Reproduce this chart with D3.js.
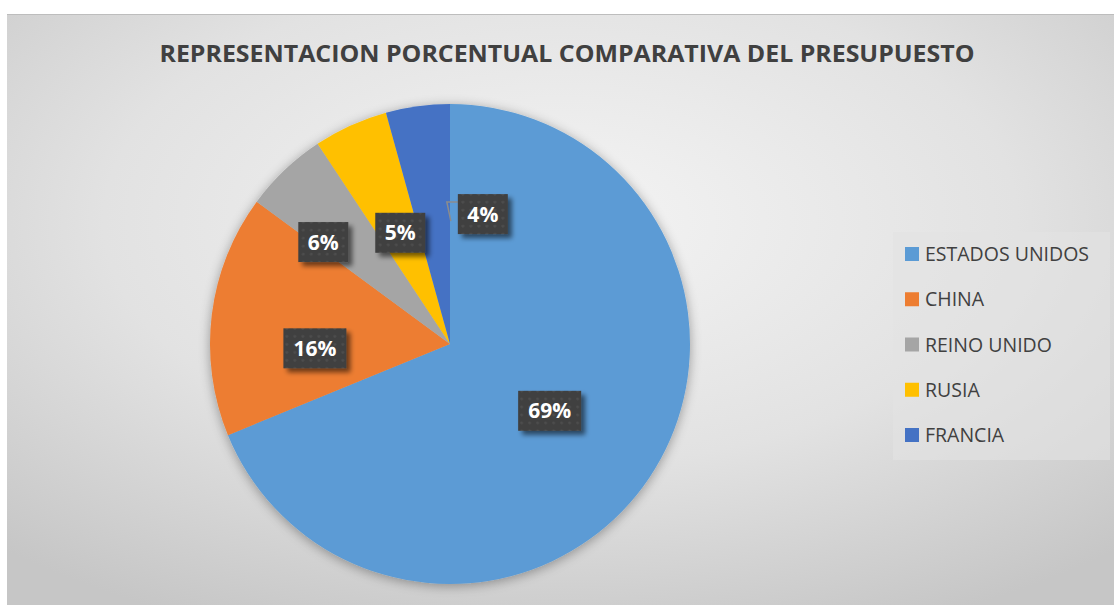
<!DOCTYPE html>
<html>
<head>
<meta charset="utf-8">
<script src="https://cdn.jsdelivr.net/npm/d3@7"></script>
<style>
  body { margin: 0; background: #fff; }
  svg { display: block; }
</style>
</head>
<body>
<svg id="chart" width="1114" height="607"></svg>
<script>
var countries = ['ESTADOS UNIDOS', 'CHINA', 'REINO UNIDO', 'RUSIA', 'FRANCIA'];
var shares = [68.8, 16.3, 5.6, 5.0, 4.3];
var colors = ['#5B9BD5', '#ED7D31', '#A5A5A5', '#FFC000', '#4472C4'];
var title = 'REPRESENTACION PORCENTUAL COMPARATIVA DEL PRESUPUESTO';

var width = 1114;
var height = 607;
var cx = 450, cy = 344, radius = 240;
// how far each label got dragged from its default spot
var labelNudge = [[0, 0], [-16, 19], [-44, -15], [0, -2], [49, -11]];

var svg = d3.select('#chart');
var defs = svg.append('defs');

var bg = defs.append('radialGradient').attr('id', 'bg')
  .attr('cx', '50%').attr('cy', '35%').attr('r', '75%');
bg.append('stop').attr('offset', '0%').attr('stop-color', '#f4f4f4');
bg.append('stop').attr('offset', '55%').attr('stop-color', '#e2e2e2');
bg.append('stop').attr('offset', '100%').attr('stop-color', '#c6c6c6');

var pieShadow = defs.append('filter').attr('id', 'pieShadow')
  .attr('x', '-20%').attr('y', '-20%').attr('width', '140%').attr('height', '140%');
pieShadow.append('feGaussianBlur').attr('in', 'SourceAlpha').attr('stdDeviation', 6);
pieShadow.append('feOffset').attr('dx', 0).attr('dy', 2).attr('result', 'b');
pieShadow.append('feComponentTransfer').append('feFuncA').attr('type', 'linear').attr('slope', 0.35);
var pm = pieShadow.append('feMerge');
pm.append('feMergeNode');
pm.append('feMergeNode').attr('in', 'SourceGraphic');

var boxShadow = defs.append('filter').attr('id', 'boxShadow')
  .attr('x', '-30%').attr('y', '-30%').attr('width', '170%').attr('height', '170%');
boxShadow.append('feGaussianBlur').attr('in', 'SourceAlpha').attr('stdDeviation', 2.5);
boxShadow.append('feOffset').attr('dx', 4).attr('dy', 4);
boxShadow.append('feComponentTransfer').append('feFuncA').attr('type', 'linear').attr('slope', 0.55);
var bm = boxShadow.append('feMerge');
bm.append('feMergeNode');
bm.append('feMergeNode').attr('in', 'SourceGraphic');

// dotted texture on the label boxes
var dots = defs.append('pattern').attr('id', 'dots')
  .attr('width', 8).attr('height', 8).attr('patternUnits', 'userSpaceOnUse');
dots.append('rect').attr('width', 8).attr('height', 8).attr('fill', '#3f3f3f');
dots.append('circle').attr('cx', 4).attr('cy', 4).attr('r', 1.6).attr('fill', '#4d4d4d');

// chart area
svg.append('rect')
  .attr('x', 7).attr('y', 14).attr('width', width - 7).attr('height', height - 16)
  .attr('fill', 'url(#bg)');
svg.append('line')
  .attr('x1', 7).attr('x2', width).attr('y1', 14.5).attr('y2', 14.5)
  .attr('stroke', '#bdbdbd').attr('stroke-width', 1);

svg.append('text')
  .attr('x', 567).attr('y', 62)
  .attr('text-anchor', 'middle')
  .attr('font-family', 'Open Sans, sans-serif')
  .attr('font-weight', 'bold')
  .attr('font-size', 24)
  .attr('fill', '#404040')
  .attr('textLength', 815)
  .attr('lengthAdjust', 'spacingAndGlyphs')
  .text(title);

var pie = d3.pie().sort(null).value(d => d);
var arcs = pie(shares);
var arc = d3.arc().innerRadius(0).outerRadius(radius);
var labelArc = d3.arc().innerRadius(radius * 0.5).outerRadius(radius * 0.5);

var g = svg.append('g').attr('transform', 'translate(' + [cx, cy] + ')');

g.append('g').attr('filter', 'url(#pieShadow)')
  .selectAll('path')
  .data(arcs).enter().append('path')
  .attr('d', arc)
  .attr('fill', (d, i) => colors[i]);

var fmt = d3.format('.0f');
var labels = arcs.map((d, i) => {
  var c = labelArc.centroid(d);
  var text = fmt(d.value) + '%';
  return {
    x: c[0] + labelNudge[i][0],
    y: c[1] + labelNudge[i][1],
    w: text.length === 2 ? 50 : 63,
    text: text,
    moved: i === 4
  };
});

// leader line for the label that was dragged off its slice
labels.filter(l => l.moved).forEach(l => {
  var x0 = l.x - l.w / 2;
  var y0 = l.y - 12;
  g.append('polyline')
    .attr('points', [[x0, y0], [x0 - 11, y0], [x0 - 7, y0 + 19]].join(' '))
    .attr('fill', 'none')
    .attr('stroke', '#8c8c8c')
    .attr('stroke-width', 1.5);
});

var lab = g.selectAll('.label')
  .data(labels).enter().append('g')
  .classed('label', true)
  .attr('transform', d => 'translate(' + [d.x, d.y] + ')');

lab.append('rect')
  .attr('x', d => -d.w / 2).attr('y', -20)
  .attr('width', d => d.w).attr('height', 40)
  .attr('fill', 'url(#dots)')
  .attr('filter', 'url(#boxShadow)');

lab.append('text')
  .attr('text-anchor', 'middle')
  .attr('dy', '0.36em')
  .attr('font-family', 'Open Sans, sans-serif')
  .attr('font-weight', 'bold')
  .attr('font-size', 21)
  .attr('fill', '#ffffff')
  .text(d => d.text);

// legend
var legend = svg.append('g');
legend.append('rect')
  .attr('x', 893).attr('y', 232).attr('width', 217).attr('height', 228)
  .attr('fill', '#e3e3e3').attr('fill-opacity', 0.6);

var rowY = d3.scalePoint().domain(countries).range([254, 435]);

var item = legend.selectAll('.item')
  .data(countries).enter().append('g')
  .classed('item', true)
  .attr('transform', d => 'translate(' + [905, rowY(d)] + ')');

item.append('rect')
  .attr('x', 0).attr('y', -7).attr('width', 14).attr('height', 14)
  .attr('fill', (d, i) => colors[i]);

item.append('text')
  .attr('x', 20).attr('dy', '0.36em')
  .attr('font-family', 'Open Sans, sans-serif')
  .attr('font-size', 19.5)
  .attr('fill', '#404040')
  .text(d => d);
</script>
</body>
</html>
